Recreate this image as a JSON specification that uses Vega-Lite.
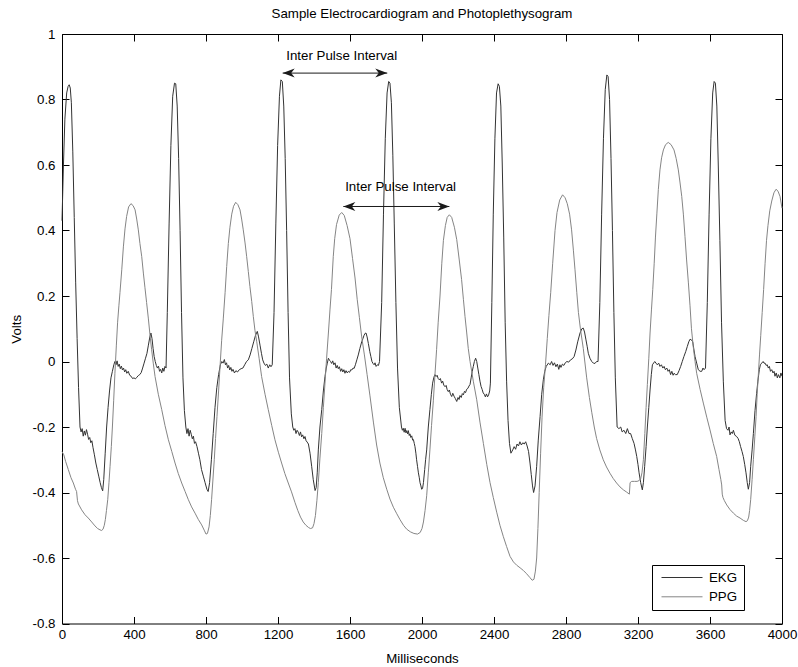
{
  "$schema": "https://vega.github.io/schema/vega-lite/v6.json",
  "width": 720,
  "height": 589.5,
  "autosize": {"type": "none"},
  "padding": {"left": 62, "top": 34, "right": 16, "bottom": 43.5},
  "background": "white",
  "title": {"text": "Sample Electrocardiogram and Photoplethysogram", "font": "Liberation Sans", "fontSize": 13.3, "fontWeight": "normal", "color": "black", "offset": 7},
  "datasets": {
    "ekg": [
      {"t":0,"v":0.43},{"t":8,"v":0.6},{"t":16,"v":0.74},{"t":26,"v":0.82},{"t":34,"v":0.84},{"t":40,"v":0.845},{"t":46,"v":0.835},{"t":52,"v":0.79},{"t":60,"v":0.64},{"t":68,"v":0.44},{"t":76,"v":0.24},{"t":84,"v":0.07},{"t":92,"v":-0.08},{"t":100,"v":-0.2},
      {"t":106,"v":-0.215},{"t":112,"v":-0.205},{"t":118,"v":-0.228},{"t":124,"v":-0.212},{"t":130,"v":-0.225},{"t":136,"v":-0.208},{"t":142,"v":-0.222},{"t":148,"v":-0.238},{"t":154,"v":-0.232},{"t":160,"v":-0.248},{"t":166,"v":-0.242},{"t":172,"v":-0.262},{"t":180,"v":-0.285},{"t":188,"v":-0.31},{"t":196,"v":-0.33},{"t":204,"v":-0.35},{"t":212,"v":-0.37},{"t":219,"v":-0.385},{"t":226,"v":-0.395},
      {"t":232,"v":-0.36},{"t":240,"v":-0.28},{"t":248,"v":-0.2},{"t":256,"v":-0.14},{"t":264,"v":-0.09},{"t":272,"v":-0.05},{"t":280,"v":-0.03},{"t":288,"v":-0.01},{"t":294,"v":0.0},
      {"t":300,"v":-0.01},{"t":306,"v":0.002},{"t":312,"v":-0.015},{"t":318,"v":-0.008},{"t":324,"v":-0.022},{"t":330,"v":-0.014},{"t":336,"v":-0.026},{"t":342,"v":-0.02},{"t":348,"v":-0.032},{"t":354,"v":-0.025},{"t":360,"v":-0.036},{"t":368,"v":-0.03},{"t":376,"v":-0.042},{"t":384,"v":-0.045},{"t":392,"v":-0.052},{"t":400,"v":-0.05},{"t":408,"v":-0.053},{"t":416,"v":-0.048},{"t":424,"v":-0.043},{"t":432,"v":-0.04},{"t":440,"v":-0.034},{"t":448,"v":-0.02},{"t":456,"v":-0.005},{"t":464,"v":0.01},{"t":472,"v":0.025},{"t":480,"v":0.05},{"t":488,"v":0.075},{"t":494,"v":0.087},{"t":500,"v":0.07},{"t":506,"v":0.04},{"t":512,"v":0.015},{"t":518,"v":0.0},{"t":524,"v":-0.012},{"t":530,"v":-0.02},{"t":536,"v":-0.014},{"t":542,"v":-0.03},{"t":548,"v":-0.024},{"t":554,"v":-0.035},{"t":560,"v":-0.02},{"t":566,"v":-0.03},{"t":572,"v":-0.015},{"t":578,"v":-0.02},
      {"t":585,"v":0.15},{"t":595,"v":0.42},{"t":605,"v":0.66},{"t":615,"v":0.81},{"t":625,"v":0.85},{"t":632,"v":0.848},{"t":640,"v":0.78},{"t":648,"v":0.62},{"t":656,"v":0.4},{"t":664,"v":0.15},{"t":672,"v":-0.05},{"t":680,"v":-0.15},{"t":688,"v":-0.2},
      {"t":694,"v":-0.22},{"t":700,"v":-0.205},{"t":706,"v":-0.228},{"t":712,"v":-0.21},{"t":718,"v":-0.222},{"t":724,"v":-0.236},{"t":730,"v":-0.228},{"t":736,"v":-0.25},{"t":742,"v":-0.245},{"t":750,"v":-0.26},{"t":758,"v":-0.28},{"t":766,"v":-0.3},{"t":775,"v":-0.33},{"t":785,"v":-0.35},{"t":795,"v":-0.37},{"t":805,"v":-0.39},{"t":812,"v":-0.397},
      {"t":820,"v":-0.37},{"t":830,"v":-0.3},{"t":840,"v":-0.22},{"t":850,"v":-0.14},{"t":860,"v":-0.08},{"t":870,"v":-0.04},{"t":880,"v":-0.01},{"t":888,"v":0.0},
      {"t":895,"v":-0.005},{"t":902,"v":0.006},{"t":908,"v":-0.01},{"t":914,"v":-0.004},{"t":920,"v":-0.02},{"t":926,"v":-0.012},{"t":932,"v":-0.026},{"t":938,"v":-0.018},{"t":944,"v":-0.03},{"t":950,"v":-0.024},{"t":958,"v":-0.035},{"t":966,"v":-0.028},{"t":975,"v":-0.032},{"t":985,"v":-0.025},{"t":995,"v":-0.022},{"t":1005,"v":-0.02},{"t":1015,"v":-0.01},{"t":1025,"v":0.0},{"t":1035,"v":0.005},{"t":1045,"v":0.02},{"t":1055,"v":0.04},{"t":1065,"v":0.06},{"t":1075,"v":0.08},{"t":1085,"v":0.092},{"t":1092,"v":0.075},{"t":1100,"v":0.05},{"t":1108,"v":0.025},{"t":1115,"v":0.005},{"t":1122,"v":-0.005},{"t":1130,"v":-0.012},{"t":1138,"v":-0.008},{"t":1146,"v":-0.02},{"t":1154,"v":-0.01},{"t":1161,"v":-0.016},{"t":1168,"v":-0.01},
      {"t":1178,"v":0.15},{"t":1188,"v":0.42},{"t":1198,"v":0.66},{"t":1208,"v":0.81},{"t":1216,"v":0.86},{"t":1224,"v":0.855},{"t":1232,"v":0.78},{"t":1240,"v":0.62},{"t":1248,"v":0.4},{"t":1256,"v":0.15},{"t":1264,"v":-0.05},{"t":1274,"v":-0.16},{"t":1282,"v":-0.2},
      {"t":1288,"v":-0.21},{"t":1294,"v":-0.205},{"t":1300,"v":-0.22},{"t":1306,"v":-0.21},{"t":1313,"v":-0.216},{"t":1319,"v":-0.226},{"t":1325,"v":-0.215},{"t":1331,"v":-0.23},{"t":1337,"v":-0.224},{"t":1344,"v":-0.236},{"t":1350,"v":-0.229},{"t":1356,"v":-0.242},{"t":1362,"v":-0.246},{"t":1369,"v":-0.252},{"t":1378,"v":-0.28},{"t":1387,"v":-0.32},{"t":1396,"v":-0.361},{"t":1406,"v":-0.394},{"t":1412,"v":-0.385},{"t":1418,"v":-0.34},{"t":1424,"v":-0.27},{"t":1433,"v":-0.2},{"t":1443,"v":-0.147},{"t":1452,"v":-0.09},{"t":1461,"v":-0.046},{"t":1468,"v":-0.02},{"t":1474,"v":-0.005},{"t":1480,"v":0.01},{"t":1486,"v":0.004},{"t":1492,"v":0.0},{"t":1498,"v":-0.006},{"t":1504,"v":0.002},{"t":1510,"v":-0.01},{"t":1517,"v":-0.004},{"t":1523,"v":-0.02},{"t":1529,"v":-0.012},{"t":1535,"v":-0.022},{"t":1541,"v":-0.016},{"t":1548,"v":-0.03},{"t":1554,"v":-0.022},{"t":1560,"v":-0.032},{"t":1566,"v":-0.025},{"t":1572,"v":-0.036},{"t":1578,"v":-0.028},{"t":1585,"v":-0.035},{"t":1591,"v":-0.03},{"t":1598,"v":-0.033},{"t":1604,"v":-0.025},{"t":1610,"v":-0.026},{"t":1617,"v":-0.02},{"t":1623,"v":-0.021},{"t":1630,"v":-0.01},{"t":1638,"v":0.005},{"t":1646,"v":0.02},{"t":1655,"v":0.04},{"t":1665,"v":0.06},{"t":1672,"v":0.07},{"t":1678,"v":0.08},{"t":1684,"v":0.086},{"t":1689,"v":0.087},{"t":1695,"v":0.075},{"t":1702,"v":0.055},{"t":1710,"v":0.03},{"t":1716,"v":0.015},{"t":1722,"v":0.0},{"t":1728,"v":-0.006},{"t":1734,"v":-0.01},{"t":1739,"v":-0.004},{"t":1745,"v":-0.015},{"t":1752,"v":-0.01},{"t":1758,"v":-0.012},{"t":1764,"v":0.0},
      {"t":1776,"v":0.18},{"t":1786,"v":0.45},{"t":1796,"v":0.68},{"t":1806,"v":0.82},{"t":1815,"v":0.855},{"t":1822,"v":0.85},{"t":1830,"v":0.79},{"t":1838,"v":0.63},{"t":1846,"v":0.42},{"t":1855,"v":0.18},{"t":1864,"v":-0.02},{"t":1874,"v":-0.14},{"t":1886,"v":-0.2},
      {"t":1891,"v":-0.21},{"t":1896,"v":-0.204},{"t":1901,"v":-0.216},{"t":1906,"v":-0.204},{"t":1911,"v":-0.218},{"t":1915,"v":-0.211},{"t":1920,"v":-0.221},{"t":1924,"v":-0.211},{"t":1929,"v":-0.226},{"t":1933,"v":-0.221},{"t":1938,"v":-0.232},{"t":1943,"v":-0.227},{"t":1948,"v":-0.24},{"t":1952,"v":-0.238},{"t":1957,"v":-0.25},{"t":1961,"v":-0.26},{"t":1966,"v":-0.28},{"t":1970,"v":-0.3},{"t":1975,"v":-0.32},{"t":1980,"v":-0.34},{"t":1985,"v":-0.355},{"t":1989,"v":-0.37},{"t":1994,"v":-0.38},{"t":1998,"v":-0.39},{"t":2003,"v":-0.388},{"t":2008,"v":-0.37},{"t":2015,"v":-0.33},{"t":2020,"v":-0.3},{"t":2026,"v":-0.27},{"t":2035,"v":-0.2},{"t":2044,"v":-0.147},{"t":2052,"v":-0.1},{"t":2059,"v":-0.066},{"t":2066,"v":-0.048},{"t":2072,"v":-0.04},{"t":2078,"v":-0.046},{"t":2084,"v":-0.042},{"t":2090,"v":-0.052},{"t":2096,"v":-0.056},{"t":2102,"v":-0.052},{"t":2109,"v":-0.066},{"t":2115,"v":-0.06},{"t":2121,"v":-0.072},{"t":2128,"v":-0.077},{"t":2134,"v":-0.073},{"t":2140,"v":-0.086},{"t":2146,"v":-0.092},{"t":2152,"v":-0.087},{"t":2158,"v":-0.1},{"t":2165,"v":-0.107},{"t":2171,"v":-0.097},{"t":2178,"v":-0.106},{"t":2185,"v":-0.113},{"t":2193,"v":-0.122},{"t":2200,"v":-0.11},{"t":2206,"v":-0.116},{"t":2211,"v":-0.104},{"t":2218,"v":-0.11},{"t":2224,"v":-0.098},{"t":2230,"v":-0.102},{"t":2236,"v":-0.091},{"t":2242,"v":-0.095},{"t":2248,"v":-0.085},{"t":2255,"v":-0.082},{"t":2261,"v":-0.075},{"t":2267,"v":-0.07},{"t":2273,"v":-0.05},{"t":2279,"v":-0.03},{"t":2285,"v":-0.015},{"t":2291,"v":0.0},{"t":2298,"v":0.01},{"t":2304,"v":0.0},{"t":2310,"v":-0.02},{"t":2316,"v":-0.04},{"t":2322,"v":-0.06},{"t":2328,"v":-0.076},{"t":2334,"v":-0.085},{"t":2340,"v":-0.096},{"t":2346,"v":-0.1},{"t":2352,"v":-0.108},{"t":2358,"v":-0.099},{"t":2364,"v":-0.108},{"t":2370,"v":-0.102},{"t":2376,"v":-0.09},{"t":2380,"v":-0.066},
      {"t":2388,"v":0.18},{"t":2396,"v":0.45},{"t":2405,"v":0.68},{"t":2414,"v":0.82},{"t":2423,"v":0.848},{"t":2430,"v":0.84},{"t":2438,"v":0.78},{"t":2446,"v":0.6},{"t":2454,"v":0.38},{"t":2462,"v":0.12},{"t":2470,"v":-0.06},{"t":2478,"v":-0.18},{"t":2486,"v":-0.25},{"t":2494,"v":-0.28},
      {"t":2504,"v":-0.27},{"t":2512,"v":-0.26},{"t":2520,"v":-0.268},{"t":2528,"v":-0.252},{"t":2536,"v":-0.258},{"t":2544,"v":-0.245},{"t":2552,"v":-0.255},{"t":2560,"v":-0.248},{"t":2568,"v":-0.252},{"t":2576,"v":-0.245},{"t":2584,"v":-0.258},{"t":2592,"v":-0.275},{"t":2600,"v":-0.31},{"t":2607,"v":-0.345},{"t":2614,"v":-0.38},{"t":2620,"v":-0.4},{"t":2628,"v":-0.38},{"t":2637,"v":-0.32},{"t":2646,"v":-0.24},{"t":2656,"v":-0.168},{"t":2665,"v":-0.1},{"t":2674,"v":-0.056},{"t":2682,"v":-0.03},{"t":2690,"v":-0.015},{"t":2702,"v":-0.005},
      {"t":2712,"v":-0.01},{"t":2720,"v":0.0},{"t":2728,"v":-0.012},{"t":2736,"v":-0.004},{"t":2744,"v":-0.016},{"t":2752,"v":-0.008},{"t":2760,"v":-0.024},{"t":2766,"v":-0.01},{"t":2772,"v":-0.018},{"t":2780,"v":-0.008},{"t":2788,"v":-0.012},{"t":2796,"v":-0.004},{"t":2805,"v":0.0},{"t":2815,"v":-0.002},{"t":2825,"v":0.005},{"t":2835,"v":0.008},{"t":2845,"v":0.015},{"t":2855,"v":0.035},{"t":2865,"v":0.06},{"t":2878,"v":0.087},{"t":2888,"v":0.1},{"t":2896,"v":0.102},{"t":2903,"v":0.09},{"t":2911,"v":0.066},{"t":2918,"v":0.045},{"t":2924,"v":0.025},{"t":2933,"v":0.01},{"t":2943,"v":0.0},{"t":2952,"v":-0.005},{"t":2961,"v":-0.006},{"t":2970,"v":0.0},{"t":2978,"v":0.0},
      {"t":2988,"v":0.18},{"t":2998,"v":0.45},{"t":3008,"v":0.68},{"t":3018,"v":0.83},{"t":3027,"v":0.875},{"t":3034,"v":0.87},{"t":3042,"v":0.8},{"t":3050,"v":0.62},{"t":3058,"v":0.4},{"t":3066,"v":0.15},{"t":3074,"v":-0.05},{"t":3084,"v":-0.2},
      {"t":3094,"v":-0.205},{"t":3104,"v":-0.2},{"t":3112,"v":-0.215},{"t":3122,"v":-0.21},{"t":3132,"v":-0.22},{"t":3141,"v":-0.205},{"t":3150,"v":-0.22},{"t":3159,"v":-0.22},{"t":3168,"v":-0.235},{"t":3178,"v":-0.25},{"t":3186,"v":-0.27},{"t":3193,"v":-0.29},{"t":3200,"v":-0.315},{"t":3206,"v":-0.34},{"t":3215,"v":-0.37},{"t":3224,"v":-0.392},{"t":3230,"v":-0.37},{"t":3237,"v":-0.32},{"t":3245,"v":-0.26},{"t":3252,"v":-0.2},{"t":3260,"v":-0.14},{"t":3267,"v":-0.087},{"t":3274,"v":-0.04},{"t":3280,"v":-0.01},{"t":3293,"v":0.0},
      {"t":3300,"v":-0.005},{"t":3307,"v":-0.01},{"t":3315,"v":-0.005},{"t":3322,"v":-0.015},{"t":3330,"v":-0.01},{"t":3338,"v":-0.02},{"t":3345,"v":-0.015},{"t":3352,"v":-0.025},{"t":3360,"v":-0.02},{"t":3367,"v":-0.03},{"t":3374,"v":-0.025},{"t":3381,"v":-0.04},{"t":3388,"v":-0.03},{"t":3395,"v":-0.042},{"t":3400,"v":-0.036},{"t":3408,"v":-0.04},{"t":3418,"v":-0.04},{"t":3428,"v":-0.028},{"t":3437,"v":-0.015},{"t":3446,"v":0.0},{"t":3455,"v":0.015},{"t":3465,"v":0.03},{"t":3474,"v":0.046},{"t":3482,"v":0.06},{"t":3489,"v":0.068},{"t":3497,"v":0.066},{"t":3504,"v":0.06},{"t":3511,"v":0.035},{"t":3517,"v":0.015},{"t":3526,"v":-0.005},{"t":3535,"v":-0.025},{"t":3545,"v":-0.03},{"t":3554,"v":-0.03},{"t":3561,"v":-0.02},{"t":3567,"v":-0.025},{"t":3575,"v":-0.02},
      {"t":3585,"v":0.18},{"t":3595,"v":0.45},{"t":3605,"v":0.68},{"t":3615,"v":0.82},{"t":3623,"v":0.855},{"t":3630,"v":0.85},{"t":3638,"v":0.78},{"t":3646,"v":0.6},{"t":3655,"v":0.37},{"t":3664,"v":0.12},{"t":3674,"v":-0.06},{"t":3684,"v":-0.18},{"t":3692,"v":-0.205},
      {"t":3700,"v":-0.21},{"t":3706,"v":-0.2},{"t":3711,"v":-0.224},{"t":3718,"v":-0.215},{"t":3724,"v":-0.22},{"t":3730,"v":-0.21},{"t":3738,"v":-0.225},{"t":3748,"v":-0.229},{"t":3756,"v":-0.235},{"t":3763,"v":-0.245},{"t":3770,"v":-0.26},{"t":3778,"v":-0.275},{"t":3785,"v":-0.29},{"t":3793,"v":-0.315},{"t":3800,"v":-0.34},{"t":3807,"v":-0.37},{"t":3813,"v":-0.39},{"t":3820,"v":-0.37},{"t":3826,"v":-0.32},{"t":3834,"v":-0.27},{"t":3841,"v":-0.22},{"t":3850,"v":-0.15},{"t":3859,"v":-0.097},{"t":3866,"v":-0.06},{"t":3874,"v":-0.025},{"t":3880,"v":-0.01},{"t":3887,"v":-0.005},{"t":3895,"v":0.0},{"t":3900,"v":-0.005},{"t":3906,"v":-0.005},{"t":3912,"v":-0.012},{"t":3918,"v":-0.01},{"t":3924,"v":-0.02},{"t":3930,"v":-0.015},{"t":3936,"v":-0.03},{"t":3943,"v":-0.025},{"t":3950,"v":-0.035},{"t":3956,"v":-0.03},{"t":3961,"v":-0.045},{"t":3968,"v":-0.035},{"t":3974,"v":-0.05},{"t":3980,"v":-0.04},{"t":3988,"v":-0.05},{"t":3994,"v":-0.035},{"t":4000,"v":-0.045}
    ],
    "ppg": [
      {"t":0,"v":-0.275},{"t":10,"v":-0.285},{"t":20,"v":-0.305},{"t":35,"v":-0.33},{"t":50,"v":-0.355},{"t":63,"v":-0.371},{"t":75,"v":-0.39},{"t":81,"v":-0.397},{"t":86,"v":-0.425},{"t":91,"v":-0.435},{"t":109,"v":-0.453},{"t":128,"v":-0.468},{"t":146,"v":-0.478},{"t":165,"v":-0.49},{"t":183,"v":-0.502},{"t":198,"v":-0.51},{"t":211,"v":-0.514},{"t":220,"v":-0.516},{"t":228,"v":-0.512},{"t":235,"v":-0.5},{"t":241,"v":-0.482},{"t":247,"v":-0.455},{"t":254,"v":-0.422},{"t":261,"v":-0.37},{"t":267,"v":-0.32},{"t":274,"v":-0.26},{"t":280,"v":-0.2},{"t":287,"v":-0.12},{"t":294,"v":-0.036},{"t":302,"v":0.05},{"t":309,"v":0.12},{"t":316,"v":0.17},{"t":322,"v":0.21},{"t":332,"v":0.28},{"t":341,"v":0.35},{"t":350,"v":0.405},{"t":359,"v":0.443},{"t":370,"v":0.472},{"t":383,"v":0.482},{"t":395,"v":0.476},{"t":406,"v":0.463},{"t":415,"v":0.435},{"t":424,"v":0.402},{"t":433,"v":0.36},{"t":443,"v":0.32},{"t":452,"v":0.27},{"t":461,"v":0.225},{"t":470,"v":0.18},{"t":480,"v":0.13},{"t":489,"v":0.08},{"t":498,"v":0.036},{"t":507,"v":-0.005},{"t":517,"v":-0.046},{"t":535,"v":-0.1},{"t":554,"v":-0.147},{"t":572,"v":-0.195},{"t":591,"v":-0.239},{"t":610,"v":-0.275},{"t":628,"v":-0.31},{"t":646,"v":-0.342},{"t":665,"v":-0.371},{"t":684,"v":-0.397},{"t":702,"v":-0.422},{"t":720,"v":-0.444},{"t":739,"v":-0.463},{"t":757,"v":-0.482},{"t":776,"v":-0.499},{"t":790,"v":-0.515},{"t":800,"v":-0.527},{"t":808,"v":-0.525},{"t":817,"v":-0.505},{"t":824,"v":-0.47},{"t":831,"v":-0.422},{"t":838,"v":-0.365},{"t":846,"v":-0.3},{"t":853,"v":-0.235},{"t":861,"v":-0.168},{"t":870,"v":-0.09},{"t":878,"v":-0.015},{"t":887,"v":0.065},{"t":896,"v":0.13},{"t":906,"v":0.21},{"t":915,"v":0.29},{"t":924,"v":0.36},{"t":933,"v":0.41},{"t":943,"v":0.45},{"t":953,"v":0.474},{"t":965,"v":0.486},{"t":977,"v":0.479},{"t":989,"v":0.463},{"t":998,"v":0.435},{"t":1007,"v":0.402},{"t":1017,"v":0.362},{"t":1026,"v":0.32},{"t":1035,"v":0.275},{"t":1044,"v":0.229},{"t":1054,"v":0.183},{"t":1063,"v":0.137},{"t":1072,"v":0.095},{"t":1082,"v":0.06},{"t":1095,"v":0.01},{"t":1109,"v":-0.046},{"t":1128,"v":-0.1},{"t":1146,"v":-0.147},{"t":1165,"v":-0.195},{"t":1183,"v":-0.239},{"t":1202,"v":-0.277},{"t":1220,"v":-0.31},{"t":1238,"v":-0.342},{"t":1257,"v":-0.371},{"t":1275,"v":-0.398},{"t":1294,"v":-0.43},{"t":1310,"v":-0.455},{"t":1325,"v":-0.475},{"t":1340,"v":-0.49},{"t":1355,"v":-0.5},{"t":1370,"v":-0.507},{"t":1380,"v":-0.51},{"t":1392,"v":-0.508},{"t":1400,"v":-0.495},{"t":1408,"v":-0.47},{"t":1416,"v":-0.425},{"t":1424,"v":-0.37},{"t":1433,"v":-0.295},{"t":1443,"v":-0.22},{"t":1452,"v":-0.14},{"t":1461,"v":-0.066},{"t":1470,"v":0.01},{"t":1480,"v":0.087},{"t":1489,"v":0.16},{"t":1497,"v":0.22},{"t":1507,"v":0.32},{"t":1515,"v":0.375},{"t":1525,"v":0.418},{"t":1540,"v":0.447},{"t":1554,"v":0.455},{"t":1568,"v":0.446},{"t":1584,"v":0.415},{"t":1600,"v":0.375},{"t":1614,"v":0.315},{"t":1628,"v":0.255},{"t":1640,"v":0.19},{"t":1652,"v":0.135},{"t":1665,"v":0.075},{"t":1680,"v":0.02},{"t":1695,"v":-0.04},{"t":1711,"v":-0.105},{"t":1730,"v":-0.185},{"t":1748,"v":-0.255},{"t":1766,"v":-0.31},{"t":1785,"v":-0.355},{"t":1804,"v":-0.39},{"t":1822,"v":-0.42},{"t":1841,"v":-0.445},{"t":1860,"v":-0.465},{"t":1878,"v":-0.483},{"t":1897,"v":-0.5},{"t":1915,"v":-0.512},{"t":1935,"v":-0.52},{"t":1955,"v":-0.525},{"t":1975,"v":-0.527},{"t":1990,"v":-0.522},{"t":2000,"v":-0.51},{"t":2008,"v":-0.49},{"t":2017,"v":-0.455},{"t":2026,"v":-0.41},{"t":2035,"v":-0.34},{"t":2044,"v":-0.27},{"t":2053,"v":-0.195},{"t":2063,"v":-0.12},{"t":2072,"v":-0.04},{"t":2081,"v":0.036},{"t":2090,"v":0.12},{"t":2100,"v":0.2},{"t":2110,"v":0.3},{"t":2119,"v":0.37},{"t":2130,"v":0.415},{"t":2140,"v":0.44},{"t":2152,"v":0.448},{"t":2165,"v":0.44},{"t":2180,"v":0.41},{"t":2193,"v":0.372},{"t":2207,"v":0.31},{"t":2220,"v":0.25},{"t":2230,"v":0.19},{"t":2239,"v":0.137},{"t":2248,"v":0.09},{"t":2257,"v":0.04},{"t":2267,"v":0.0},{"t":2285,"v":-0.06},{"t":2304,"v":-0.117},{"t":2322,"v":-0.185},{"t":2341,"v":-0.25},{"t":2360,"v":-0.315},{"t":2378,"v":-0.37},{"t":2396,"v":-0.415},{"t":2415,"v":-0.46},{"t":2433,"v":-0.5},{"t":2452,"v":-0.535},{"t":2470,"v":-0.565},{"t":2489,"v":-0.595},{"t":2508,"v":-0.612},{"t":2526,"v":-0.622},{"t":2545,"v":-0.63},{"t":2563,"v":-0.638},{"t":2581,"v":-0.648},{"t":2600,"v":-0.66},{"t":2612,"v":-0.668},{"t":2622,"v":-0.665},{"t":2630,"v":-0.64},{"t":2637,"v":-0.6},{"t":2644,"v":-0.51},{"t":2651,"v":-0.4},{"t":2659,"v":-0.28},{"t":2667,"v":-0.17},{"t":2676,"v":-0.08},{"t":2686,"v":-0.01},{"t":2696,"v":0.07},{"t":2705,"v":0.14},{"t":2715,"v":0.21},{"t":2726,"v":0.3},{"t":2739,"v":0.4},{"t":2750,"v":0.455},{"t":2765,"v":0.493},{"t":2781,"v":0.509},{"t":2795,"v":0.5},{"t":2807,"v":0.482},{"t":2820,"v":0.45},{"t":2831,"v":0.402},{"t":2841,"v":0.34},{"t":2850,"v":0.28},{"t":2860,"v":0.21},{"t":2869,"v":0.15},{"t":2880,"v":0.1},{"t":2896,"v":0.04},{"t":2915,"v":-0.05},{"t":2930,"v":-0.11},{"t":2943,"v":-0.155},{"t":2957,"v":-0.2},{"t":2970,"v":-0.235},{"t":2988,"v":-0.27},{"t":3007,"v":-0.3},{"t":3025,"v":-0.322},{"t":3044,"v":-0.341},{"t":3062,"v":-0.357},{"t":3081,"v":-0.371},{"t":3100,"v":-0.383},{"t":3119,"v":-0.392},{"t":3135,"v":-0.398},{"t":3152,"v":-0.405},{"t":3156,"v":-0.37},{"t":3165,"v":-0.366},{"t":3180,"v":-0.366},{"t":3195,"v":-0.366},{"t":3205,"v":-0.364},{"t":3215,"v":-0.358},{"t":3222,"v":-0.34},{"t":3230,"v":-0.3},{"t":3238,"v":-0.22},{"t":3245,"v":-0.14},{"t":3252,"v":-0.07},{"t":3260,"v":0.01},{"t":3267,"v":0.087},{"t":3275,"v":0.16},{"t":3282,"v":0.22},{"t":3290,"v":0.3},{"t":3297,"v":0.38},{"t":3305,"v":0.453},{"t":3313,"v":0.525},{"t":3322,"v":0.585},{"t":3331,"v":0.622},{"t":3341,"v":0.646},{"t":3353,"v":0.662},{"t":3368,"v":0.669},{"t":3384,"v":0.662},{"t":3400,"v":0.646},{"t":3412,"v":0.62},{"t":3424,"v":0.585},{"t":3433,"v":0.548},{"t":3443,"v":0.504},{"t":3452,"v":0.45},{"t":3461,"v":0.382},{"t":3470,"v":0.31},{"t":3480,"v":0.24},{"t":3489,"v":0.17},{"t":3497,"v":0.1},{"t":3507,"v":0.045},{"t":3517,"v":0.0},{"t":3526,"v":-0.036},{"t":3545,"v":-0.085},{"t":3563,"v":-0.127},{"t":3582,"v":-0.17},{"t":3600,"v":-0.209},{"t":3618,"v":-0.25},{"t":3637,"v":-0.29},{"t":3650,"v":-0.33},{"t":3660,"v":-0.36},{"t":3665,"v":-0.377},{"t":3668,"v":-0.405},{"t":3672,"v":-0.415},{"t":3680,"v":-0.425},{"t":3693,"v":-0.438},{"t":3711,"v":-0.452},{"t":3730,"v":-0.463},{"t":3748,"v":-0.472},{"t":3767,"v":-0.478},{"t":3785,"v":-0.485},{"t":3800,"v":-0.489},{"t":3808,"v":-0.486},{"t":3815,"v":-0.475},{"t":3820,"v":-0.455},{"t":3826,"v":-0.422},{"t":3834,"v":-0.36},{"t":3841,"v":-0.3},{"t":3849,"v":-0.23},{"t":3856,"v":-0.168},{"t":3862,"v":-0.1},{"t":3868,"v":-0.046},{"t":3875,"v":0.02},{"t":3882,"v":0.08},{"t":3890,"v":0.15},{"t":3898,"v":0.22},{"t":3906,"v":0.3},{"t":3914,"v":0.37},{"t":3922,"v":0.415},{"t":3932,"v":0.46},{"t":3943,"v":0.49},{"t":3955,"v":0.515},{"t":3967,"v":0.526},{"t":3978,"v":0.52},{"t":3989,"v":0.504},{"t":4000,"v":0.468}
    ],
    "arrows": [
      {"x1": 1226, "x2": 1807, "y": 0.8806},
      {"x1": 1563, "x2": 2152, "y": 0.4733}
    ],
    "heads": [
      {"x": 1226, "y": 0.8806, "d": "L"},
      {"x": 1807, "y": 0.8806, "d": "R"},
      {"x": 1563, "y": 0.4733, "d": "L"},
      {"x": 2152, "y": 0.4733, "d": "R"}
    ],
    "notes": [
      {"x": 1554, "y": 0.933, "label": "Inter Pulse Interval"},
      {"x": 1881, "y": 0.532, "label": "Inter Pulse Interval"}
    ]
  },
  "resolve": {"axis": {"x": "independent", "y": "independent"}},
  "layer": [
    {
      "data": {"name": "ekg"},
      "mark": {"type": "line", "strokeWidth": 1},
      "encoding": {
        "x": {"field": "t", "type": "quantitative",
              "scale": {"domain": [0, 4000], "nice": false, "zero": false},
              "axis": {"orient": "bottom", "values": [0,400,800,1200,1600,2000,2400,2800,3200,3600,4000], "format": "d", "title": "Milliseconds", "titlePadding": 11, "labelPadding": 4}},
        "y": {"field": "v", "type": "quantitative",
              "scale": {"domain": [-0.8, 1], "nice": false, "zero": false},
              "axis": {"orient": "left", "values": [-0.8,-0.6,-0.4,-0.2,0,0.2,0.4,0.6,0.8,1], "labelExpr": "replace(format(datum.value, '.1~f'), '−', '-')", "title": "Volts", "titlePadding": 9, "labelPadding": 7}},
        "color": {"datum": "EKG", "type": "nominal",
                  "scale": {"domain": ["EKG", "PPG"], "range": ["#333333", "#858585"]},
                  "legend": {"title": null, "orient": "none", "legendX": 590, "legendY": 531, "symbolType": "stroke", "symbolSize": 1681, "symbolStrokeWidth": 1, "strokeColor": "black", "fillColor": "white", "padding": 6, "labelFont": "Liberation Sans", "labelFontSize": 13.3, "labelColor": "black", "labelOffset": 6, "symbolOffset": 3, "clipHeight": 13, "rowPadding": 5.3, "cornerRadius": 0}}
      }
    },
    {
      "data": {"name": "ppg"},
      "mark": {"type": "line", "strokeWidth": 1},
      "encoding": {
        "x": {"field": "t", "type": "quantitative", "axis": null},
        "y": {"field": "v", "type": "quantitative", "axis": null},
        "color": {"datum": "PPG", "type": "nominal"}
      }
    },
    {
      "data": {"name": "arrows"},
      "mark": {"type": "rule", "color": "#1a1a1a", "strokeWidth": 1},
      "encoding": {
        "x": {"field": "x1", "type": "quantitative",
              "axis": {"orient": "top", "values": [0,400,800,1200,1600,2000,2400,2800,3200,3600,4000], "labels": false, "title": null}},
        "x2": {"field": "x2"},
        "y": {"field": "y", "type": "quantitative",
              "axis": {"orient": "right", "values": [-0.8,-0.6,-0.4,-0.2,0,0.2,0.4,0.6,0.8,1], "labels": false, "title": null}}
      }
    },
    {
      "data": {"name": "heads"},
      "mark": {"type": "point", "filled": true, "size": 100, "color": "#1a1a1a", "opacity": 1, "strokeWidth": 0},
      "encoding": {
        "x": {"field": "x", "type": "quantitative", "axis": null},
        "y": {"field": "y", "type": "quantitative", "axis": null},
        "shape": {"field": "d", "type": "nominal", "legend": null,
                  "scale": {"domain": ["L", "R"], "range": ["M0,0L2.4,-0.9L1.7,0L2.4,0.9Z", "M0,0L-2.4,-0.9L-1.7,0L-2.4,0.9Z"]}}
      }
    },
    {
      "data": {"name": "notes"},
      "mark": {"type": "text", "font": "Liberation Sans", "fontSize": 13.3, "color": "black", "align": "center", "baseline": "middle"},
      "encoding": {
        "x": {"field": "x", "type": "quantitative", "axis": null},
        "y": {"field": "y", "type": "quantitative", "axis": null},
        "text": {"field": "label"}
      }
    }
  ],
  "config": {
    "view": {"stroke": "black", "strokeWidth": 1},
    "font": "Liberation Sans",
    "axis": {"domain": false, "grid": false, "offset": -7, "tickColor": "black", "tickSize": 7, "tickWidth": 1, "labelColor": "black", "labelFont": "Liberation Sans", "labelFontSize": 13.3, "titleFont": "Liberation Sans", "titleFontSize": 13.3, "titleFontWeight": "normal", "titleColor": "black", "labelFlush": false, "labelOverlap": false}
  }
}
